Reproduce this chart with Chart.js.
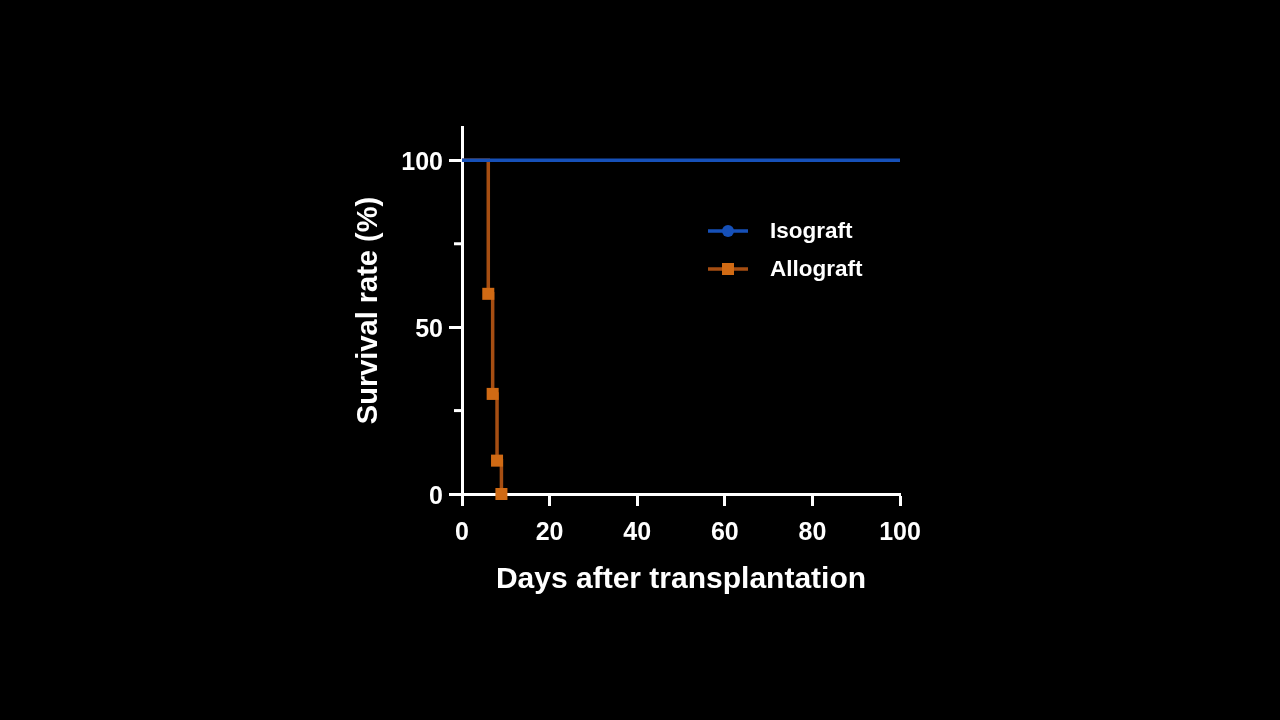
<!DOCTYPE html>
<html lang="en">
<head>
    <meta charset="UTF-8">
    <title>Survival rate</title>
    <script src="https://cdn.jsdelivr.net/npm/chart.js@4.4.1/dist/chart.umd.min.js"></script>
    <style>
        html, body { margin: 0; padding: 0; background: #000; }
        #wrap { width: 1280px; height: 720px; }
    </style>
</head>
<body>
<div id="wrap"><canvas id="myChart" width="1280" height="720"></canvas></div>

<script>
    // data
    const isoDays = [0, 100];
    const isoSurvival = [100, 100];
    const alloDays = [0, 6, 7, 8, 9];
    const alloSurvival = [100, 60, 30, 10, 0];
    const xTicks = [0, 20, 40, 60, 80, 100];
    const yTicks = [0, 50, 100];
    const yMinorTicks = [25, 75];
    const seriesNames = ['Isograft', 'Allograft'];

    const BLUE = '#1650b8';
    const ORANGE_LINE = '#a64e12';
    const ORANGE_MARK = '#d06a14';
    const FONT = '"Liberation Sans", Arial, sans-serif';

    function toPoints(xs, ys) {
        return xs.map(function(x, i) { return { x: x, y: ys[i] }; });
    }

    // legend drawn inside the plot, line + marker like the original
    const insideLegend = {
        id: 'insideLegend',
        afterDraw: function(chart) {
            const ctx = chart.ctx;
            const items = [
                { label: seriesNames[0], color: BLUE, mark: BLUE, style: 'circle', y: 231 },
                { label: seriesNames[1], color: ORANGE_LINE, mark: ORANGE_MARK, style: 'rect', y: 269 }
            ];
            ctx.save();
            items.forEach(function(it) {
                ctx.strokeStyle = it.color;
                ctx.lineWidth = 3.5;
                ctx.beginPath();
                ctx.moveTo(708, it.y);
                ctx.lineTo(748, it.y);
                ctx.stroke();
                ctx.fillStyle = it.mark;
                if (it.style === 'circle') {
                    ctx.beginPath();
                    ctx.arc(728, it.y, 6, 0, Math.PI * 2);
                    ctx.fill();
                } else {
                    ctx.fillRect(722, it.y - 6, 12, 12);
                }
                ctx.fillStyle = '#fff';
                ctx.font = 'bold 22.5px ' + FONT;
                ctx.textBaseline = 'middle';
                ctx.fillText(it.label, 770, it.y + 1);
            });
            ctx.restore();
        }
    };

    // shorter minor ticks on the y axis
    const minorTicks = {
        id: 'minorTicks',
        afterDraw: function(chart) {
            const ctx = chart.ctx;
            const y = chart.scales.y;
            ctx.save();
            ctx.strokeStyle = '#fff';
            ctx.lineWidth = 3;
            yMinorTicks.forEach(function(v) {
                const py = y.getPixelForValue(v);
                ctx.beginPath();
                ctx.moveTo(y.right - 8, py);
                ctx.lineTo(y.right, py);
                ctx.stroke();
            });
            ctx.restore();
        }
    };

    const ctx = document.getElementById('myChart').getContext('2d');
    const myChart = new Chart(ctx, {
        type: 'line',
        data: {
            datasets: [{
                label: seriesNames[1],
                data: toPoints(alloDays, alloSurvival),
                borderColor: ORANGE_LINE,
                borderWidth: 3.5,
                stepped: 'before',
                pointStyle: 'rect',
                pointRadius: alloDays.map(function(d, i) { return i === 0 ? 0 : 8.5; }),
                pointBackgroundColor: ORANGE_MARK,
                pointBorderWidth: 0,
                clip: false,
                order: 2
            }, {
                label: seriesNames[0],
                data: toPoints(isoDays, isoSurvival),
                borderColor: BLUE,
                borderWidth: 3.5,
                pointRadius: 0,
                order: 1
            }]
        },
        options: {
            responsive: false,
            animation: false,
            layout: { padding: { left: 348, right: 380, top: 127, bottom: 118 } },
            plugins: {
                legend: { display: false },
                tooltip: { enabled: false }
            },
            scales: {
                x: {
                    type: 'linear',
                    min: 0,
                    max: 100,
                    afterBuildTicks: function(s) { s.ticks = xTicks.map(function(v) { return { value: v }; }); },
                    afterFit: function(s) { s.height = 108; },
                    grid: { drawOnChartArea: false, tickLength: 12, tickWidth: 3, tickColor: '#fff' },
                    border: { color: '#fff', width: 3 },
                    ticks: { color: '#fff', font: { family: FONT, size: 25, weight: 'bold' }, padding: 12, maxRotation: 0 },
                    title: { display: true, text: 'Days after transplantation', color: '#fff',
                        font: { family: FONT, size: 30, weight: 'bold' }, padding: { top: 4, bottom: 4 } }
                },
                y: {
                    min: 0,
                    max: 110,
                    afterBuildTicks: function(s) { s.ticks = yTicks.map(function(v) { return { value: v }; }); },
                    afterFit: function(s) { s.width = 114; },
                    grid: { drawOnChartArea: false, tickLength: 13, tickWidth: 3, tickColor: '#fff' },
                    border: { color: '#fff', width: 3 },
                    ticks: { color: '#fff', font: { family: FONT, size: 25, weight: 'bold' }, padding: 6, labelOffset: 3 },
                    title: { display: true, text: 'Survival rate (%)', color: '#fff',
                        font: { family: FONT, size: 29, weight: 'bold' }, padding: { top: 4, bottom: 4 } }
                }
            }
        },
        plugins: [minorTicks, insideLegend]
    });
</script>
</body>
</html>
